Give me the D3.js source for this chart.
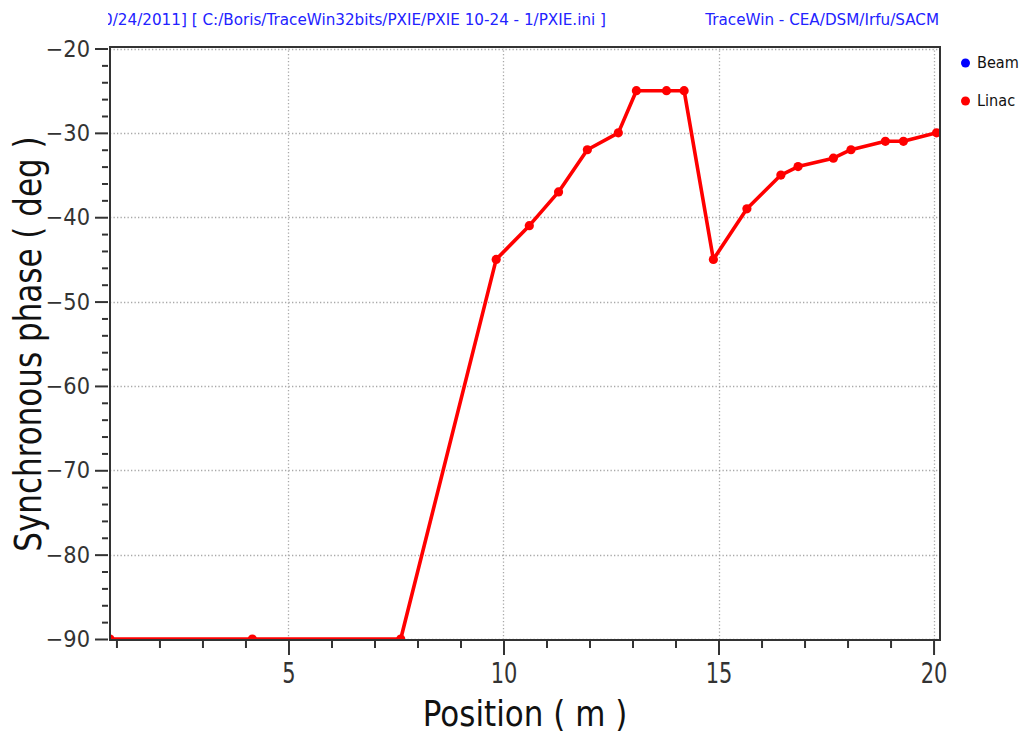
<!DOCTYPE html>
<html lang="en">

<head>
    <meta charset="utf-8">
    <script src="https://cdn.jsdelivr.net/npm/d3@7/dist/d3.min.js"></script>
    <title>Synchronous phase</title>
    <style>
        body { margin: 0; background: #fff; }
        svg { display: block; font-family: "DejaVu Sans", sans-serif; }
    </style>
</head>

<body>
    <svg width="1022" height="736" id="plot"></svg>
    <script>
    // data
    const positions = [0.85, 4.16, 7.61, 9.83, 10.60, 11.28, 11.95, 12.67, 13.09, 13.79, 14.20,
        14.88, 15.66, 16.45, 16.85, 17.67, 18.08, 18.88, 19.30, 20.07]
    const phases = [-90, -90, -90, -45, -41, -37, -32, -30, -25, -25, -25,
        -45, -39, -35, -34, -33, -32, -31, -31, -30]
    const xTicks = [5, 10, 15, 20]
    const xMinorTicks = [1, 2, 3, 4, 6, 7, 8, 9, 11, 12, 13, 14, 16, 17, 18, 19]
    const yTicks = [-20, -30, -40, -50, -60, -70, -80, -90]
    const yMinorTicks = d3.range(-88, -20, 2).filter(v => v % 10 != 0)
    const legendNames = ["Beam", "Linac"]
    const legendColors = ["#0000ff", "#ff0000"]
    const headerLeft = "10/24/2011] [ C:/Boris/TraceWin32bits/PXIE/PXIE 10-24 - 1/PXIE.ini ]"
    const headerRight = "TraceWin - CEA/DSM/Irfu/SACM"

    const data = positions.map((p, i) => ({ pos: p, phase: phases[i] }))

    let svg = d3.select("#plot")

    // plot box
    const boxLeft = 110, boxRight = 940, boxTop = 47, boxBottom = 640

    let x = d3.scaleLinear().domain([0.85, 20.15]).range([boxLeft, boxRight])
    let y = d3.scaleLinear().domain([-90, -20]).range([639, 48.5])

    // clip for the data
    svg.append("clipPath").attr("id", "clip")
        .append("rect")
        .attr("x", boxLeft).attr("y", boxTop)
        .attr("width", boxRight - boxLeft).attr("height", boxBottom - boxTop)

    // the header is cut on its left side
    svg.append("clipPath").attr("id", "headclip")
        .append("rect")
        .attr("x", 108).attr("y", 0)
        .attr("width", 600).attr("height", 40)

    // grid
    let grid = svg.append("g")
        .attr("stroke", "#a8a8a8")
        .attr("stroke-width", 1.3)
        .attr("stroke-dasharray", "1.3,2.2")
    grid.selectAll(".gy").data(yTicks).enter().append("line")
        .attr("x1", boxLeft).attr("x2", boxRight)
        .attr("y1", d => Math.round(y(d)) + 0.5)
        .attr("y2", d => Math.round(y(d)) + 0.5)
    grid.selectAll(".gx").data(xTicks).enter().append("line")
        .attr("y1", boxTop).attr("y2", boxBottom)
        .attr("x1", d => Math.round(x(d)) + 0.5)
        .attr("x2", d => Math.round(x(d)) + 0.5)

    // the curve
    let plot = svg.append("g").attr("clip-path", "url(#clip)")
    plot.append("path")
        .datum(data)
        .attr("fill", "none")
        .attr("stroke", "#ff0000")
        .attr("stroke-width", 3.6)
        .attr("stroke-linejoin", "round")
        .attr("d", d3.line()
            .x(d => x(d.pos))
            .y(d => y(d.phase))
        )
    plot.selectAll("circle")
        .data(data)
        .enter()
        .append("circle")
        .attr("cx", d => x(d.pos))
        .attr("cy", d => y(d.phase))
        .attr("r", 4.6)
        .attr("fill", "#ff0000")

    // frame
    svg.append("rect")
        .attr("x", boxLeft).attr("y", boxTop)
        .attr("width", boxRight - boxLeft).attr("height", boxBottom - boxTop)
        .attr("fill", "none")
        .attr("stroke", "#333")
        .attr("stroke-width", 2)

    // Y axis
    let yAxis = svg.append("g").attr("transform", "translate(108,0)")
        .call(d3.axisLeft(y).tickValues(yTicks).tickSize(13).tickPadding(5))
    yAxis.append("g")
        .call(d3.axisLeft(y).tickValues(yMinorTicks).tickSize(6).tickFormat(""))
    yAxis.selectAll(".domain").remove()
    yAxis.selectAll("line").attr("stroke", "#333").attr("stroke-width", 2)
    yAxis.selectAll("text")
        .attr("fill", "#333")
        .attr("transform", "scale(1,1.12)")
        .style("font-size", "21px")
        .style("font-family", "DejaVu Sans")

    // X axis (labels are drawn a bit taller than wide)
    const xStretch = 1.32
    let xAxis = svg.append("g").attr("transform", "translate(0,641)")
        .call(d3.axisBottom(x).tickValues(xTicks).tickSize(14).tickPadding(8))
    xAxis.append("g")
        .call(d3.axisBottom(x).tickValues(xMinorTicks).tickSize(7).tickFormat(""))
    xAxis.selectAll(".domain").remove()
    xAxis.selectAll("line").attr("stroke", "#333").attr("stroke-width", 2)
    xAxis.selectAll("text")
        .attr("fill", "#333")
        .attr("y", 22.5 / xStretch)
        .attr("transform", "scale(1," + xStretch + ")")
        .style("font-size", "21px")
        .style("font-family", "DejaVu Sans")

    // axis labels
    svg.append("text")
        .text("Position ( m )")
        .attr("transform", "translate(525,726) scale(1,1.15)")
        .attr("text-anchor", "middle")
        .attr("fill", "#111")
        .style("font-size", "31px")

    svg.append("text")
        .text("Synchronous phase ( deg )")
        .attr("transform", "translate(41,344) rotate(-90) scale(1,1.2)")
        .attr("text-anchor", "middle")
        .attr("fill", "#111")
        .style("font-size", "31px")

    // header texts
    svg.append("text")
        .text(headerLeft)
        .attr("x", 606)
        .attr("y", 25)
        .attr("text-anchor", "end")
        .attr("clip-path", "url(#headclip)")
        .attr("fill", "#2222ff")
        .style("font-size", "15.2px")

    svg.append("text")
        .text(headerRight)
        .attr("x", 939)
        .attr("y", 25)
        .attr("text-anchor", "end")
        .attr("fill", "#2222ff")
        .style("font-size", "15.2px")

    // legend
    let legend = svg.append("g")
    legend.selectAll("circle")
        .data(legendNames)
        .enter()
        .append("circle")
        .attr("cx", 965.5)
        .attr("cy", (d, i) => 63 + i * 38)
        .attr("r", 4.5)
        .attr("fill", (d, i) => legendColors[i])
    legend.selectAll("text")
        .data(legendNames)
        .enter()
        .append("text")
        .text(d => d)
        .attr("transform", (d, i) => "translate(977," + (68 + i * 38) + ") scale(1,1.12)")
        .attr("fill", "#111")
        .style("font-size", "14.5px")
    </script>
</body>

</html>
